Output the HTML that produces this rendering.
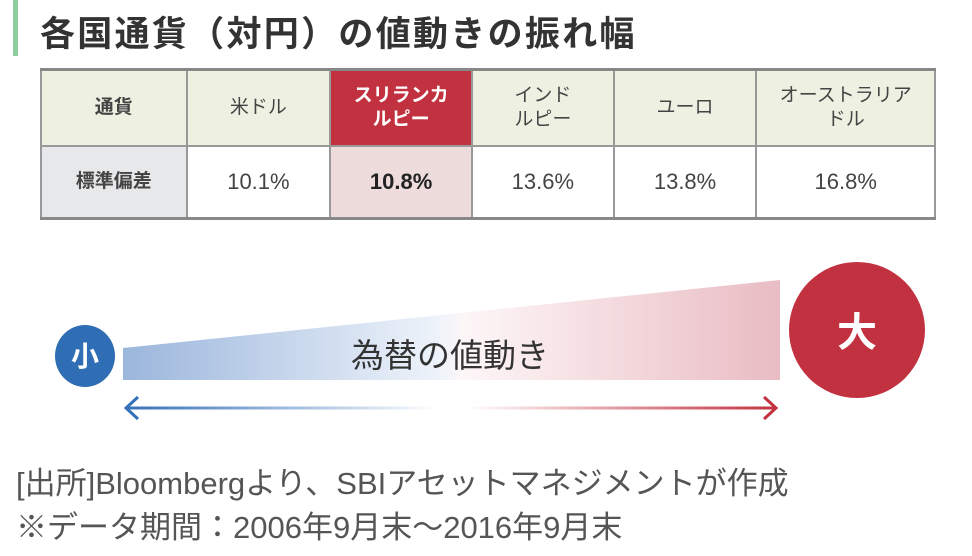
<!DOCTYPE html>
<html><head><meta charset="utf-8"><style>
body{margin:0;width:972px;height:556px;background:#fff;position:relative;overflow:hidden;font-family:"Liberation Sans","Noto Sans CJK JP",sans-serif}
.bar{position:absolute;left:13px;top:0;width:5px;height:56px;background:#8fcf9f}
.title{position:absolute;left:40px;top:6px;font-size:35px;font-weight:bold;color:#333;letter-spacing:2.3px}
table{position:absolute;left:40px;top:68px;border-collapse:collapse;width:896px;border-top:3px solid #888;border-bottom:3px solid #888}
td{border:2px solid #999;text-align:center;font-size:19px;color:#444;padding:0;line-height:24px}
tr.h td{height:74px;background:#eef0e2}
tr.v td{height:70px;background:#fff;font-size:22px}
td.r{background:#c2313f!important;color:#fff;font-weight:bold}
td.p{background:#eedcdc!important;font-weight:bold;color:#222}
td.g{background:#e7e8ea!important;font-weight:bold}
.ft{position:absolute;left:16px;font-size:31px;color:#555;line-height:36px}
</style></head><body>
<div class="bar"></div>
<div class="title">各国通貨（対円）の値動きの振れ幅</div>
<table>
<colgroup><col style="width:146px"><col style="width:144px"><col style="width:142px"><col style="width:142px"><col style="width:143px"><col style="width:179px"></colgroup>
<tr class="h"><td style="font-weight:bold">通貨</td><td>米ドル</td><td class="r">スリランカ<br>ルピー</td><td>インド<br>ルピー</td><td>ユーロ</td><td>オーストラリア<br>ドル</td></tr>
<tr class="v"><td class="g" style="font-size:19px">標準偏差</td><td>10.1%</td><td class="p">10.8%</td><td>13.6%</td><td>13.8%</td><td>16.8%</td></tr>
</table>
<svg width="972" height="556" style="position:absolute;left:0;top:0">
<defs>
<linearGradient id="w" x1="123" x2="780" gradientUnits="userSpaceOnUse">
<stop offset="0" stop-color="#9bb6dc"/><stop offset="0.48" stop-color="#eef3fa"/><stop offset="0.52" stop-color="#fdf6f7"/><stop offset="1" stop-color="#e9bcc3"/></linearGradient>
<linearGradient id="a" x1="123" x2="780" gradientUnits="userSpaceOnUse">
<stop offset="0" stop-color="#3570b8"/><stop offset="0.48" stop-color="#ffffff"/><stop offset="0.52" stop-color="#ffffff"/><stop offset="1" stop-color="#c2313f"/></linearGradient>
</defs>
<polygon points="123,348 780,280 780,380 123,380" fill="url(#w)"/>
<line x1="126" y1="408" x2="776" y2="408" stroke="url(#a)" stroke-width="3"/>
<polyline points="138,397 126,408 138,419" fill="none" stroke="#3570b8" stroke-width="3"/>
<polyline points="764,397 776,408 764,419" fill="none" stroke="#c2313f" stroke-width="3"/>
<ellipse cx="85" cy="356" rx="30" ry="31" fill="#2f6db5"/>
<text x="85" y="366" font-size="28" font-weight="bold" fill="#fff" text-anchor="middle" font-family="Noto Sans CJK JP,sans-serif">小</text>
<ellipse cx="857" cy="330" rx="68" ry="68" fill="#c2313f"/>
<text x="857" y="346" font-size="40" font-weight="bold" fill="#fff" text-anchor="middle" font-family="Noto Sans CJK JP,sans-serif">大</text>
<text x="450" y="367" font-size="33" fill="#333" text-anchor="middle" font-family="Noto Sans CJK JP,sans-serif">為替の値動き</text>
</svg>
<div class="ft" style="top:466px">[出所]Bloombergより、SBIアセットマネジメントが作成</div>
<div class="ft" style="top:510px">※データ期間：2006年9月末～2016年9月末</div>
</body></html>
